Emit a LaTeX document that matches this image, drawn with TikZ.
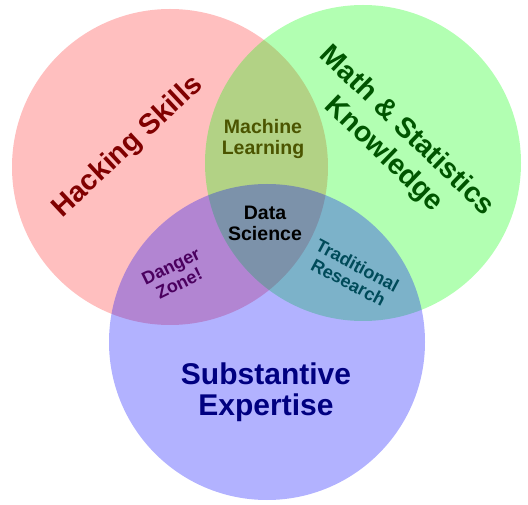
\documentclass[tikz,border=0pt]{standalone}
\usepackage{fontspec}
\setmainfont{Liberation Sans}
\usetikzlibrary{positioning}
\definecolor{hackred}{RGB}{128,0,0}
\definecolor{mathgreen}{RGB}{0,85,0}
\definecolor{mlolive}{RGB}{75,85,0}
\definecolor{dangerpurple}{RGB}{75,0,95}
\definecolor{tradteal}{RGB}{0,75,90}
\definecolor{subnavy}{RGB}{0,0,128}
\tikzset{
 c/.style
  = {circle, inner sep=0pt, minimum size=316pt},
 big/.style
  = {font=\bfseries\fontsize{28.5}{33}\selectfont, align=center, inner sep=0pt},
 sub/.style
  = {font=\bfseries\fontsize{30}{31}\selectfont, align=center, inner sep=0pt},
 mid/.style
  = {font=\bfseries\fontsize{19.5}{21}\selectfont, align=center, inner sep=0pt},
 sm/.style
  = {font=\bfseries\fontsize{18}{19}\selectfont, align=center, inner sep=0pt}
}

\begin{document}
\begin{tikzpicture}[x=1pt, y=1pt]
    \useasboundingbox (0,0) rectangle (528,504);
    \node [c, fill=red, fill opacity=0.25] (hacking) at (170,337) {};
    \node [c, fill=green, fill opacity=0.3] (math) at (363,341) {};
    \node [c, fill=blue, fill opacity=0.3] (expertise) at (267,162) {};

    \node [big, text=hackred, rotate=43] (hackinglabel) at (128,357) {Hacking Skills};
    \node [big, text=mathgreen, rotate=-44] (mathlabel) at (395,361) {Math \& Statistics\\Knowledge};
    \node [sub, text=subnavy] (expertiselabel) at (266,112) {Substantive\\Expertise};
    \node [mid, text=mlolive] (ml) at (263,365) {Machine\\Learning};
    \node [mid, text=black] (ds) at (265,281) {Data\\Science};
    \node [sm, text=dangerpurple, rotate=26] (danger) at (175,229) {Danger\\Zone!};
    \node [sm, text=tradteal, rotate=-28] (trad) at (353,230) {Traditional\\Research};
\end{tikzpicture}
\end{document}
